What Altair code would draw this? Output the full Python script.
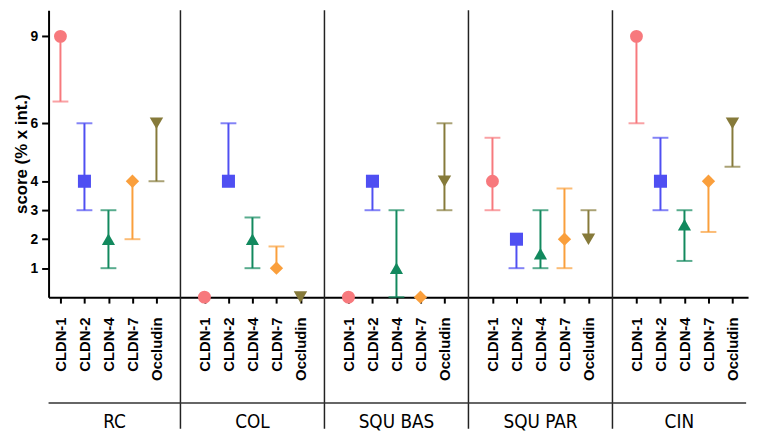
import altair as alt
import pandas as pd

groups = ["RC", "COL", "SQU BAS", "SQU PAR", "CIN"]
proteins = ["CLDN-1", "CLDN-2", "CLDN-4", "CLDN-7", "Occludin"]
colors = ["#F7797D", "#4F4FF2", "#12895E", "#FA9F3C", "#867A3A"]
shapes = ["circle", "square", "triangle-up", "diamond", "triangle-down"]
sizes = [170, 185, 175, 240, 175]

score = {
    "RC":      [9, 4, 2, 4, 6],
    "COL":     [0, 4, 2, 1, 0],
    "SQU BAS": [0, 4, 1, 0, 4],
    "SQU PAR": [4, 2, 1.5, 2, 2],
    "CIN":     [9, 4, 2.5, 4, 6],
}
lower = {
    "RC":      [6.75, 3, 1, 2, 4],
    "COL":     [0, 4, 1, 1, 0],
    "SQU BAS": [0, 3, 0, 0, 3],
    "SQU PAR": [3, 1, 1, 1, 2],
    "CIN":     [6, 3, 1.25, 2.25, 4.5],
}
upper = {
    "RC":      [9, 6, 3, 4, 6],
    "COL":     [0, 6, 2.75, 1.75, 0],
    "SQU BAS": [0, 4, 3, 0, 6],
    "SQU PAR": [5.5, 2, 3, 3.75, 3],
    "CIN":     [9, 5.5, 3, 4, 6],
}
y_ticks = [1, 2, 3, 4, 6, 9]

# slot layout: 5 proteins per group plus one empty slot between groups
slot_step = 6
x_min, x_max = -0.495, 28.65
line_end = 28.57

rows, caps = [], []
for gi, g in enumerate(groups):
    for pi, p in enumerate(proteins):
        s = gi * slot_step + pi
        rows.append(dict(group=g, protein=p, slot=s, score=score[g][pi],
                         lo=lower[g][pi], hi=upper[g][pi]))
        if lower[g][pi] < score[g][pi]:
            caps.append(dict(protein=p, slot=s, v=lower[g][pi]))
        if upper[g][pi] > score[g][pi]:
            caps.append(dict(protein=p, slot=s, v=upper[g][pi]))
df = pd.DataFrame(rows)
cap_df = pd.DataFrame(caps)

seps = [gi * slot_step - 1 for gi in range(1, len(groups))]
sep_df = pd.DataFrame({"slot": seps})
bounds = [x_min] + seps + [line_end]
lab_df = pd.DataFrame({"group": groups,
                       "pos": [(bounds[i] + bounds[i + 1]) / 2 for i in range(len(groups))]})
hline_df = pd.DataFrame({"a": [x_min], "b": [line_end]})

tick_slots = [gi * slot_step + pi for gi in range(len(groups)) for pi in range(len(proteins))]
label_js = "[" + ",".join("'%s'" % p for p in proteins) + "]"

xscale = alt.Scale(domain=[x_min, x_max], nice=False, zero=False)
yscale = alt.Scale(domain=[0, 9.9], nice=False, zero=False)
color = alt.Color("protein:N", scale=alt.Scale(domain=proteins, range=colors), legend=None)

x_axis = alt.Axis(values=tick_slots, tickCount=60, labelExpr=label_js + "[datum.value % 6]",
                  title=None, labelAngle=270, labelFont="Liberation Sans",
                  labelFontWeight="bold", labelFontSize=15, labelColor="black",
                  labelPadding=14, tickSize=6, tickWidth=2, tickColor="black",
                  domainColor="black", domainWidth=2, grid=False, labelOverlap=False)
y_axis = alt.Axis(values=y_ticks, title="score (% x int.)", titleFont="Liberation Sans",
                  titleFontWeight="bold", titleFontSize=17, titleColor="black", titlePadding=0,
                  labelFont="Liberation Sans", labelFontWeight="bold", labelFontSize=14,
                  labelColor="black", labelPadding=4, tickSize=7, tickWidth=2,
                  tickColor="black", domainColor="black", domainWidth=2, grid=False)

base = alt.Chart(df)
bars = base.mark_rule(strokeWidth=2).encode(
    x=alt.X("slot:Q", scale=xscale, axis=x_axis),
    y=alt.Y("lo:Q", scale=yscale, axis=y_axis),
    y2="hi:Q",
    color=color,
)
cap_marks = alt.Chart(cap_df).mark_tick(orient="horizontal", size=16, thickness=2).encode(
    x="slot:Q", y="v:Q", color=color)
points = base.mark_point(filled=True, opacity=1).encode(
    x="slot:Q", y="score:Q", color=color,
    shape=alt.Shape("protein:N", scale=alt.Scale(domain=proteins, range=shapes), legend=None),
    size=alt.Size("protein:N", scale=alt.Scale(domain=proteins, range=sizes), legend=None),
)
sep_marks = alt.Chart(sep_df).mark_rule(color="#222222", strokeWidth=1.5).encode(
    x="slot:Q", y=alt.value(0), y2=alt.value(423))
hline = alt.Chart(hline_df).mark_rule(color="#333333", strokeWidth=1.5).encode(
    x="a:Q", x2="b:Q", y=alt.value(397))
glabels = alt.Chart(lab_df).mark_text(
    font="'DejaVu Sans Condensed', 'Liberation Sans', sans-serif", fontSize=19,
    color="black", baseline="middle", align="center").encode(
    x="pos:Q", y=alt.value(416), text="group:N")

chart = alt.layer(sep_marks, hline, glabels, bars, cap_marks, points).properties(
    width=707, height=290,
    padding={"left": 41, "top": 0, "right": 6, "bottom": 133},
    autosize=alt.AutoSizeParams(type="none"),
).configure_view(stroke=None)

chart.save("out.html", embed_options={"renderer": "svg", "actions": False})
